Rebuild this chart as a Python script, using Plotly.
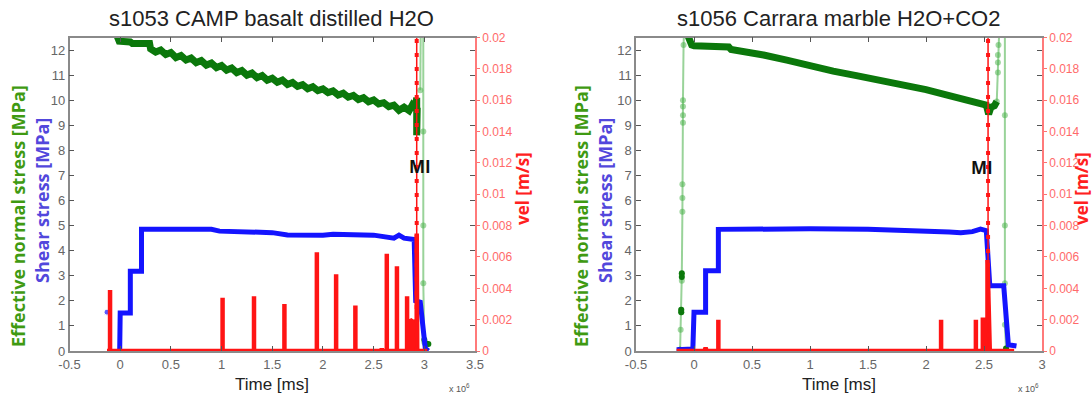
import plotly.graph_objects as go

# ---------------- data: s1053 (left panel) ----------------
titles = ["s1053 CAMP basalt distilled H2O", "s1056 Carrara marble H2O+CO2"]

# effective normal stress [MPa] (time in ms x1e6)
s1053_normal = [(-0.03, 12.55), (-0.01, 12.35), (0.10, 12.32), (0.12, 12.26), (0.29, 12.26),
                (0.30, 12.05), (0.35, 11.92), (0.40, 12.00), (0.45, 11.82), (0.50, 11.90),
                (0.55, 11.70), (0.60, 11.78), (0.65, 11.60), (0.70, 11.68), (0.75, 11.50),
                (0.80, 11.58), (0.85, 11.40), (0.90, 11.48), (0.95, 11.30), (1.00, 11.38),
                (1.05, 11.20), (1.10, 11.28), (1.15, 11.10), (1.20, 11.18), (1.25, 11.00),
                (1.30, 11.08), (1.35, 10.90), (1.40, 10.98), (1.45, 10.80), (1.50, 10.88),
                (1.55, 10.72), (1.60, 10.80), (1.65, 10.63), (1.70, 10.71), (1.75, 10.55),
                (1.80, 10.62), (1.85, 10.46), (1.90, 10.54), (1.95, 10.38), (2.00, 10.45),
                (2.05, 10.30), (2.10, 10.37), (2.15, 10.21), (2.20, 10.28), (2.25, 10.12),
                (2.30, 10.19), (2.35, 10.03), (2.40, 10.10), (2.45, 9.94), (2.50, 10.01),
                (2.55, 9.85), (2.60, 9.90), (2.65, 9.74), (2.70, 9.80), (2.75, 9.60),
                (2.80, 9.72), (2.85, 9.58), (2.88, 9.80), (2.91, 9.66), (2.925, 10.10),
                (2.925, 8.60), (2.93, 9.70)]
s1053_normal_jump = [(2.96, 10.40), (2.965, 13.0), (None, None),
                     (2.99, 13.0), (2.99, 8.75), (2.99, 5.0), (2.99, 2.7), (3.00, 0.35), (3.01, 0.28)]
s1053_normal_tail = [(3.00, 0.45), (3.02, 0.30), (3.04, 0.28)]

# shear stress [MPa]
s1053_shear = [(-0.005, 0.0), (0.0, 1.52), (0.10, 1.52), (0.10, 3.18), (0.21, 3.18), (0.21, 4.85),
               (0.90, 4.85), (0.98, 4.78), (1.50, 4.72), (1.65, 4.63), (2.00, 4.62), (2.10, 4.66),
               (2.50, 4.62), (2.60, 4.55), (2.70, 4.50), (2.75, 4.62), (2.80, 4.50), (2.90, 4.45),
               (2.915, 2.00), (2.96, 1.95), (2.99, 0.90), (3.01, 0.10), (3.04, 0.0)]
s1053_shear_dots = [(-0.13, 1.55), (-0.10, 1.0)]

# slip velocity [m/s]
s1053_vel = [(-0.13, 0), (-0.10, 0), (-0.10, 0.0039), (-0.10, 0), (1.01, 0), (1.01, 0.0034), (1.01, 0),
             (1.32, 0), (1.32, 0.0035), (1.32, 0), (1.62, 0), (1.62, 0.0030), (1.62, 0),
             (1.94, 0), (1.94, 0.0063), (1.94, 0), (2.13, 0), (2.13, 0.0049), (2.13, 0),
             (2.32, 0), (2.32, 0.0029), (2.32, 0), (2.58, 0), (2.58, 0.0002), (2.58, 0),
             (2.63, 0), (2.63, 0.0062), (2.63, 0), (2.73, 0), (2.73, 0.0054), (2.73, 0),
             (2.83, 0), (2.83, 0.0035), (2.83, 0), (2.86, 0), (2.86, 0.0020), (2.88, 0.0019),
             (2.88, 0), (2.90, 0), (2.90, 0.0020), (2.915, 0.0015), (2.925, 0), (2.925, 0.0075),
             (2.93, 0), (3.03, 0)]
s1053_mi = [(2.925, 0.0), (2.925, 0.021)]
s1053_mi_label = (2.955, 7.35)

# ---------------- data: s1056 (right panel) ----------------
s1056_normal = [(-0.055, 12.6), (-0.04, 12.3), (-0.02, 12.2), (0.0, 12.17), (0.15, 12.14), (0.30, 12.12),
                (0.32, 12.02), (0.45, 11.93), (0.60, 11.80), (0.80, 11.60), (1.00, 11.36), (1.20, 11.16),
                (1.40, 10.98), (1.60, 10.80), (1.80, 10.60), (2.00, 10.42), (2.20, 10.18), (2.35, 9.98),
                (2.46, 9.85), (2.52, 9.80), (2.54, 9.45), (2.56, 9.72), (2.59, 9.78), (2.61, 9.95)]
s1056_normal_jump = [(-0.12, 0.0), (-0.115, 0.85), (-0.11, 1.55), (-0.11, 1.65), (-0.105, 2.8),
                     (-0.105, 3.05), (-0.10, 5.55), (-0.10, 6.1), (-0.10, 6.65), (-0.095, 9.1),
                     (-0.095, 9.4), (-0.095, 9.75), (-0.095, 10.0), (-0.09, 12.2), (-0.087, 12.6),
                     (None, None),
                     (2.61, 9.95), (2.62, 11.1), (2.62, 11.5), (2.62, 11.8), (2.625, 12.2), (2.63, 12.6),
                     (None, None),
                     (2.68, 12.6), (2.68, 9.4), (2.68, 5.0), (2.68, 2.7), (2.68, 1.05), (2.69, 0.1)]
s1056_normal_marks = [(-0.12, 0.05), (-0.11, 1.55), (-0.11, 1.65), (-0.105, 2.95), (-0.105, 3.1),
                      (2.69, 0.1)]

s1056_shear = [(-0.15, 0.05), (-0.01, 0.08), (0.0, 1.55), (0.10, 1.55), (0.10, 3.2), (0.21, 3.2),
               (0.21, 4.85), (0.60, 4.88), (1.00, 4.87), (1.50, 4.85), (1.80, 4.82), (2.00, 4.80),
               (2.20, 4.75), (2.30, 4.72), (2.40, 4.76), (2.47, 4.86), (2.52, 4.80), (2.55, 2.60),
               (2.67, 2.60), (2.71, 0.25), (2.78, 0.20)]

s1056_vel = [(-0.15, 0), (0.09, 0), (0.10, 0.0002), (0.11, 0), (0.21, 0), (0.21, 0.0020), (0.21, 0),
             (2.13, 0), (2.13, 0.0020), (2.13, 0), (2.43, 0), (2.43, 0.0020), (2.43, 0),
             (2.49, 0), (2.49, 0.0020), (2.51, 0.0020), (2.51, 0), (2.53, 0), (2.53, 0.0058),
             (2.55, 0), (2.76, 0)]
s1056_mi = [(2.535, 0.0), (2.535, 0.021)]
s1056_mi_label = (2.485, 7.3)

x_ticks_left = [-0.5, 0, 0.5, 1, 1.5, 2, 2.5, 3, 3.5]
x_ticks_right = [-0.5, 0, 0.5, 1, 1.5, 2, 2.5, 3]
y_ticks = [0, 1, 2, 3, 4, 5, 6, 7, 8, 9, 10, 11, 12]
vel_ticks = [0, 0.002, 0.004, 0.006, 0.008, 0.01, 0.012, 0.014, 0.016, 0.018, 0.02]
vel_tick_text = ["0", "0.002", "0.004", "0.006", "0.008", "0.01", "0.012", "0.014", "0.016", "0.018", "0.02"]

# ---------------- styles ----------------
GREEN = "#0b780b"
LGREEN = "rgba(70,175,70,0.55)"
BLUE = "#1414ff"
RED = "#ff1414"


def xs(p):
    return [a for a, b in p]


def ys(p):
    return [b for a, b in p]


fig = go.Figure()


def add_panel(xa, ya, ya2, normal, jump, marks, shear, shear_dots, vel, mi):
    fig.add_trace(go.Scatter(x=xs(jump), y=ys(jump), xaxis=xa, yaxis=ya, mode="lines+markers",
                             line=dict(color=LGREEN, width=2),
                             marker=dict(size=6, color="rgba(70,175,70,0.5)"),
                             connectgaps=False, hoverinfo="skip"))
    fig.add_trace(go.Scatter(x=xs(normal), y=ys(normal), xaxis=xa, yaxis=ya, mode="lines",
                             line=dict(color=GREEN, width=7), hoverinfo="skip"))
    if marks:
        fig.add_trace(go.Scatter(x=xs(marks), y=ys(marks), xaxis=xa, yaxis=ya, mode="markers",
                                 marker=dict(size=6, color=GREEN), hoverinfo="skip"))
    fig.add_trace(go.Scatter(x=xs(shear), y=ys(shear), xaxis=xa, yaxis=ya, mode="lines",
                             line=dict(color=BLUE, width=5), hoverinfo="skip"))
    if shear_dots:
        fig.add_trace(go.Scatter(x=xs(shear_dots), y=ys(shear_dots), xaxis=xa, yaxis=ya, mode="markers",
                                 marker=dict(size=[6, 3], color=[BLUE, "rgba(20,20,255,0.4)"]),
                                 hoverinfo="skip"))
    fig.add_trace(go.Scatter(x=xs(vel), y=ys(vel), xaxis=xa, yaxis=ya2, mode="lines",
                             line=dict(color=RED, width=4.5), hoverinfo="skip"))
    fig.add_trace(go.Scatter(x=xs(mi), y=ys(mi), xaxis=xa, yaxis=ya2, mode="lines",
                             line=dict(color=RED, width=1.5), hoverinfo="skip"))
    fig.add_trace(go.Scatter(x=xs(mi), y=ys(mi), xaxis=xa, yaxis=ya2, mode="lines",
                             line=dict(color=RED, width=4, dash="4px,10px"), hoverinfo="skip"))


add_panel("x", "y", "y2", s1053_normal, s1053_normal_jump, s1053_normal_tail,
          s1053_shear, s1053_shear_dots, s1053_vel, s1053_mi)
add_panel("x2", "y3", "y4", s1056_normal, s1056_normal_jump, s1056_normal_marks,
          s1056_shear, None, s1056_vel, s1056_mi)

TICKFONT = dict(family="Liberation Sans, Arial", size=13, color="#666666")
RTICKFONT = dict(family="Liberation Sans, Arial", size=12, color="#ff6a6a")
YDOM = [0.1136, 0.9053]


def fmt(v):
    return "%g" % v


def xaxis(domain, rng, ticks, anchor):
    return dict(domain=domain, range=rng, anchor=anchor, tickvals=ticks, ticktext=[fmt(t) for t in ticks],
                ticks="inside", ticklen=5, tickcolor="#555555", showline=True, linecolor="#8a8a8a",
                linewidth=1.5, mirror="ticks", showgrid=False, zeroline=False, tickfont=TICKFONT,
                ticklabelstandoff=1, automargin=False)


def yaxis(anchor):
    return dict(domain=YDOM, range=[0, 12.5], anchor=anchor, tickvals=y_ticks,
                ticktext=[str(t) for t in y_ticks], ticks="inside", ticklen=5, tickcolor="#555555",
                showline=True, linecolor="#8a8a8a", linewidth=1.5, mirror="ticks", showgrid=False,
                zeroline=False, tickfont=TICKFONT, automargin=False)


def yaxis_r(over, anchor):
    return dict(overlaying=over, anchor=anchor, side="right", range=[0, 0.02], tickvals=vel_ticks,
                ticktext=vel_tick_text, ticks="outside", ticklen=3, tickcolor="#ff7070",
                showline=True, linecolor="#ff7a7a", linewidth=1.5, showgrid=False, zeroline=False,
                tickfont=RTICKFONT, automargin=False)


ann = []
BOLD = "Open Sans, DejaVu Sans"


def A(x, y, text, font, angle=0):
    return dict(x=x / 1092, y=1 - y / 396, xref="paper", yref="paper", text=text, textangle=angle,
                showarrow=False, xanchor="center", yanchor="middle", font=font)


for cx, cgreen, cblue, cvel, title, xtime in [
        (271.6, 18, 42, 522, titles[0], 459),
        (838.5, 581, 605, 1081, titles[1], 1028)]:
    ann.append(A(cx, 18.5, title, dict(family="Liberation Sans, Arial", size=22, color="#222222")))
    ann.append(A(cgreen, 216, "<b>Effective normal stress [MPa]</b>",
                 dict(family=BOLD, size=18, color="#3f9a12"), -90))
    ann.append(A(cblue, 201, "<b>Shear stress [MPa]</b>",
                 dict(family=BOLD, size=18, color="#5247dc"), -90))
    ann.append(A(cvel, 189, "<b>vel [m/s]</b>", dict(family=BOLD, size=17, color="#ff2020"), -90))
    ann.append(A(cx, 384, "Time [ms]", dict(family="Liberation Sans, Arial", size=17, color="#222222")))
    ann.append(A(xtime, 388, "x 10<sup>6</sup>", dict(family="Liberation Sans, Arial", size=9, color="#555555")))

for (mx, my), xa, ya in [(s1053_mi_label, "x", "y"), (s1056_mi_label, "x2", "y3")]:
    ann.append(dict(x=mx, y=my, xref=xa, yref=ya, text="<b>MI</b>", showarrow=False,
                    xanchor="center", yanchor="middle",
                    font=dict(family=BOLD, size=17, color="#111111")))

fig.update_layout(
    width=1092, height=396, margin=dict(l=0, r=0, t=0, b=0, autoexpand=False),
    paper_bgcolor="white", plot_bgcolor="white", showlegend=False,
    xaxis=xaxis([69.5 / 1092, 475 / 1092], [-0.5, 3.5], x_ticks_left, "y"),
    yaxis=yaxis("x"),
    yaxis2=yaxis_r("y", "x"),
    xaxis2=xaxis([636 / 1092, 1042 / 1092], [-0.5, 3.0], x_ticks_right, "y3"),
    yaxis3=yaxis("x2"),
    yaxis4=yaxis_r("y3", "x2"),
    annotations=ann,
)

fig.write_html("out.html")
